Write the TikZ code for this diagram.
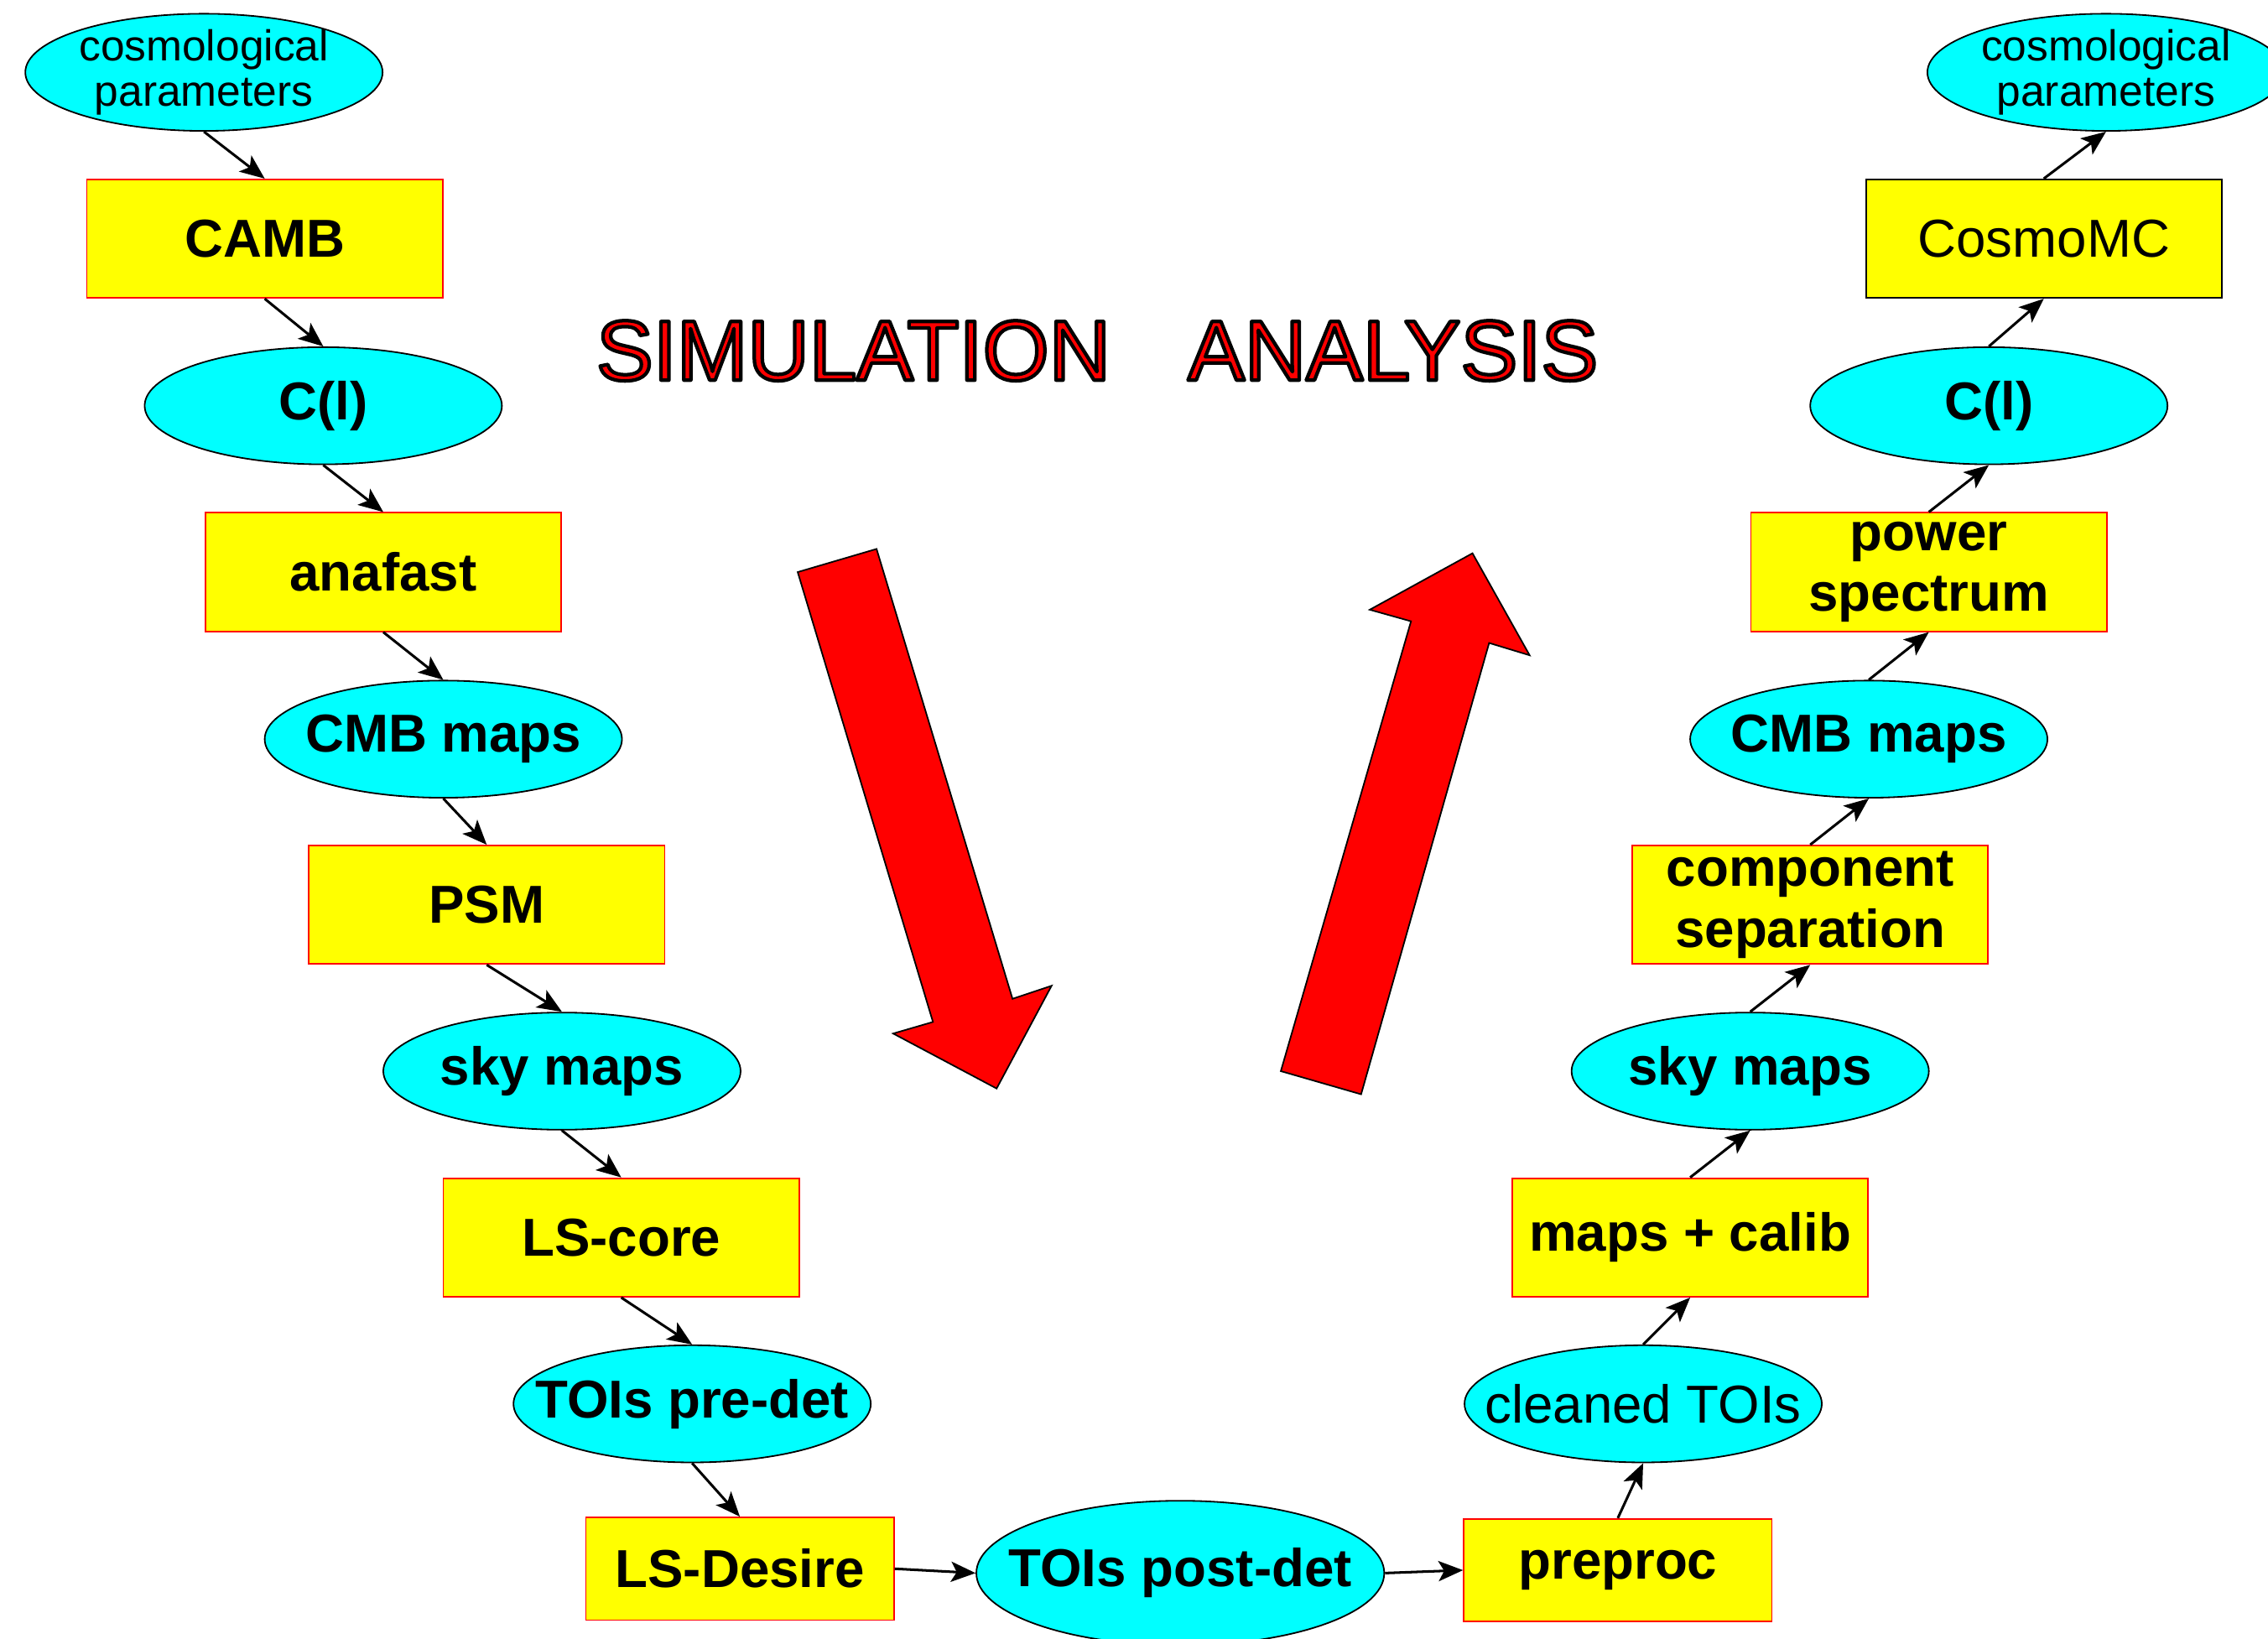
\documentclass[tikz,border=0pt]{standalone}
\usepackage{fontspec}
\setmainfont{Liberation Sans}
\usepackage{xcolor}
\usetikzlibrary{arrows.meta,shapes.geometric,positioning}

\definecolor{aqua}{RGB}{0,255,255}
\definecolor{lemon}{RGB}{255,255,0}
\definecolor{brightred}{RGB}{255,0,0}
% red letters with a black outline
\newcommand{\redtitle}[1]{%
  {\color{brightred}\special{pdf:literal 2 Tr 1.4 w 1 j 0 G}#1\special{pdf:literal 0 Tr}}}

\begin{document}
\begin{tikzpicture}[
  >={Stealth[length=3.4mm,width=2.8mm,inset=0.8mm]},
  every node/.style={font=\fontsize{21}{24}\selectfont\bfseries},
  prog/.style={rectangle,draw=brightred,fill=lemon,line width=0.6pt,minimum width=4.92cm,minimum height=1.64cm,align=center,inner sep=0pt},
  smallprog/.style={prog,minimum width=4.26cm,minimum height=1.42cm},
  data/.style={ellipse,draw,fill=aqua,line width=0.6pt,minimum width=4.94cm,minimum height=1.62cm,align=center,inner xsep=-6mm,inner ysep=-1mm},
  flow/.style={->,line width=1pt},
  bigarrow/.style={fill=brightred,draw=black,line width=0.6pt,line join=miter}
]
\useasboundingbox (0,0) rectangle (31.36,-22.66);

% Simulation chain
\node[data,font=\fontsize{17}{18}\selectfont] (parL) at (2.82,-1.00) {cosmological\\parameters};
\node[prog] (camb) at (3.66,-3.30) {CAMB};
\node[data] (clL) at (4.47,-5.61) {C(l)};
\node[prog] (anafast) at (5.30,-7.91) {anafast};
\node[data] (cmbL) at (6.13,-10.22) {CMB maps};
\node[prog] (psm) at (6.73,-12.51) {PSM};
\node[data] (skyL) at (7.77,-14.81) {sky maps};
\node[prog] (lscore) at (8.59,-17.11) {LS-core};
\node[data] (toipre) at (9.57,-19.41) {TOIs pre-det};
\node[smallprog] (lsdesire) at (10.23,-21.69) {LS-Desire};

% Detector output
\node[data,minimum width=5.64cm,minimum height=2.0cm] (toipost) at (16.32,-21.75) {TOIs post-det};

% Analysis chain
\node[smallprog] (preproc) at (22.37,-21.71) {preproc};
\node[data,font=\fontsize{21}{24}\selectfont] (cleaned) at (22.72,-19.41) {cleaned TOIs};
\node[prog] (mapcal) at (23.37,-17.11) {maps + calib};
\node[data] (skyR) at (24.20,-14.81) {sky maps};
\node[prog] (compsep) at (25.03,-12.51) {component\\separation};
\node[data] (cmbR) at (25.84,-10.22) {CMB maps};
\node[prog] (powspec) at (26.67,-7.91) {power\\spectrum};
\node[data] (clR) at (27.50,-5.61) {C(l)};
\node[prog,draw=black,font=\fontsize{21}{24}\selectfont] (cosmomc) at (28.26,-3.30) {CosmoMC};
\node[data,font=\fontsize{17}{18}\selectfont] (parR) at (29.12,-1.00) {cosmological\\parameters};

% Connectors
\foreach \a/\b in {parL/camb,camb/clL,clL/anafast,anafast/cmbL,cmbL/psm,psm/skyL,skyL/lscore,lscore/toipre,toipre/lsdesire}
  \draw[flow] (\a.south) -- (\b.north);
\draw[flow] (lsdesire.east) -- (toipost.west);
\draw[flow] (toipost.east) -- (preproc.west);
\foreach \a/\b in {preproc/cleaned,cleaned/mapcal,mapcal/skyR,skyR/compsep,compsep/cmbR,cmbR/powspec,powspec/clR,clR/cosmomc,cosmomc/parR}
  \draw[flow] (\a.north) -- (\b.south);

% Titles
\node[font=\fontsize{33.5}{36}\selectfont] (simtitle) at (11.80,-4.85) {\redtitle{SIMULATION}};
\node[font=\fontsize{33.5}{36}\selectfont] (anatitle) at (19.26,-4.85) {\redtitle{ANALYSIS}};

% Big arrows
\draw[bigarrow] (11.03,-7.91) -- (12.12,-7.59) -- (14.00,-13.81) -- (14.54,-13.63)
  -- (13.78,-15.05) -- (12.35,-14.29) -- (12.90,-14.13) -- cycle;
\draw[bigarrow] (17.71,-14.81) -- (18.82,-15.13) -- (20.59,-8.89) -- (21.15,-9.06)
  -- (20.36,-7.65) -- (18.94,-8.43) -- (19.51,-8.59) -- cycle;
\end{tikzpicture}
\end{document}
